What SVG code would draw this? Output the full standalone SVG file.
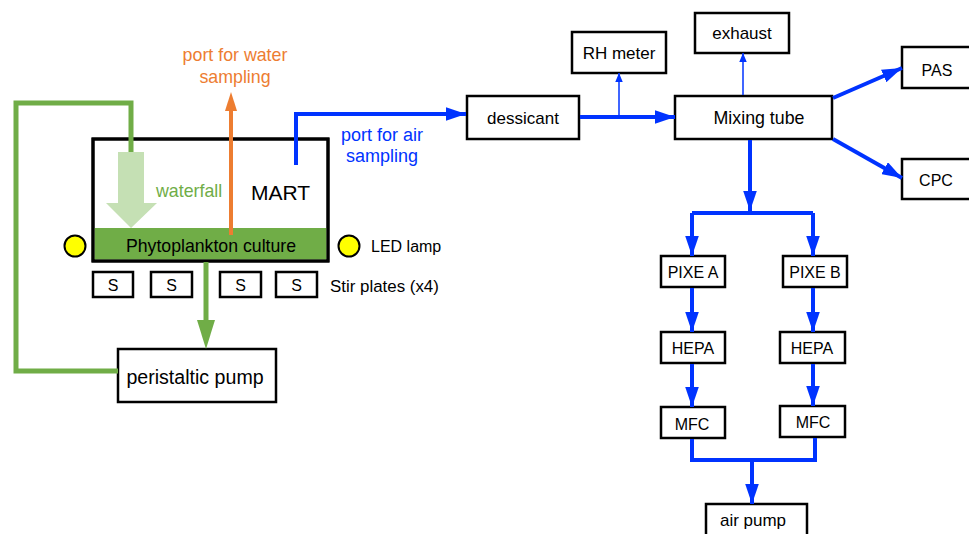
<svg xmlns="http://www.w3.org/2000/svg" width="969" height="534" viewBox="0 0 969 534">
<style>
text{font-family:"Liberation Sans","DejaVu Sans",sans-serif;fill:#000}
.box{fill:#fff;stroke:#000;stroke-width:2.5}
.t{font-size:17px;text-anchor:middle;dominant-baseline:central}
.c{font-size:16px}
.s{font-size:16px;dominant-baseline:central}
.blue{stroke:#0033FF;fill:none;stroke-width:4}
.bthin{stroke:#0033FF;fill:none;stroke-width:1.5}
.green{stroke:#70AD47;fill:none;stroke-width:5}
</style>
<defs>
<marker id="ab" viewBox="0 0 10 10" refX="10" refY="5" markerWidth="5" markerHeight="3.4" orient="auto" markerUnits="strokeWidth" preserveAspectRatio="none"><path d="M0,0L10,5L0,10z" fill="#0033FF"/></marker>
<marker id="abt" viewBox="0 0 10 10" refX="10" refY="5" markerWidth="6" markerHeight="5" orient="auto" markerUnits="strokeWidth" preserveAspectRatio="none"><path d="M0,0L10,5L0,10z" fill="#0033FF"/></marker>
</defs>
<g id="mart">
<rect x="93" y="139" width="235" height="122" fill="#fff" stroke="#000" stroke-width="3"/>
<rect x="94.5" y="228" width="232" height="31.5" fill="#70AD47"/>
<rect x="93" y="139" width="235" height="122" fill="none" stroke="#000" stroke-width="3"/>
<text class="t" x="211" y="246" style="font-size:17.7px">Phytoplankton culture</text>
<text x="251" y="192" style="font-size:21px;dominant-baseline:central">MART</text>
</g>
<g id="waterfall">
<path d="M118,152 H144 V203 H157 L131,228 L106,203 H118z" fill="#C5E0B4"/>
<text class="s" x="156" y="191" style="font-size:17.8px;fill:#70AD47">waterfall</text>
</g>
<g id="water-port"><text class="t" x="235" y="55" style="font-size:17.8px;fill:#ED7D31">port for water</text><text class="t" x="235" y="77" style="font-size:17.8px;fill:#ED7D31">sampling</text></g>
<g id="air-port"><text class="t" x="382" y="135" style="font-size:18px;fill:#0033FF">port for air</text><text class="t" x="382" y="156" style="font-size:18px;fill:#0033FF">sampling</text></g>
<g id="led-left"><circle cx="75" cy="246" r="10.5" fill="#FFFF00" stroke="#000" stroke-width="2"/></g>
<g id="led-right"><circle cx="349" cy="246" r="10.5" fill="#FFFF00" stroke="#000" stroke-width="2"/><text class="s" x="371" y="246">LED lamp</text></g>
<g id="stir1"><rect class="box" x="93" y="272" width="40" height="25"/><text class="t" x="113" y="285" style="font-size:16px">S</text></g>
<g id="stir2"><rect class="box" x="151" y="272" width="41" height="25"/><text class="t" x="171.5" y="285" style="font-size:16px">S</text></g>
<g id="stir3"><rect class="box" x="220" y="272" width="41" height="25"/><text class="t" x="240.5" y="285" style="font-size:16px">S</text></g>
<g id="stir4"><rect class="box" x="276" y="272" width="41" height="25"/><text class="t" x="296.5" y="285" style="font-size:16px">S</text><text class="s" x="330" y="286" style="font-size:16.9px">Stir plates (x4)</text></g>
<g id="pump"><rect class="box" x="118" y="349" width="158" height="53"/><text class="t" x="195" y="377" style="font-size:19.6px">peristaltic pump</text></g>
<g id="dessicant"><rect class="box" x="467" y="96" width="112" height="43"/><text class="t" x="523" y="118">dessicant</text></g>
<g id="rh"><rect class="box" x="572" y="32" width="94" height="41"/><text class="t" x="619" y="53">RH meter</text></g>
<g id="exhaust"><rect class="box" x="695" y="13" width="94" height="40"/><text class="t" x="742" y="33">exhaust</text></g>
<g id="mixing"><rect class="box" x="675" y="96" width="157" height="43"/><text class="t" x="759" y="118" style="font-size:17.8px">Mixing tube</text></g>
<g id="pas"><rect class="box" x="902" y="47" width="75" height="41"/><text class="t c" x="937" y="70">PAS</text></g>
<g id="cpc"><rect class="box" x="902" y="159" width="75" height="40"/><text class="t c" x="936" y="180">CPC</text></g>
<g id="pixea"><rect class="box" x="661" y="256" width="64" height="31"/><text class="t c" x="693" y="272">PIXE A</text></g>
<g id="pixeb"><rect class="box" x="783" y="256" width="64" height="31"/><text class="t c" x="815" y="272">PIXE B</text></g>
<g id="hepaa"><rect class="box" x="661" y="332" width="64" height="31"/><text class="t c" x="693" y="348">HEPA</text></g>
<g id="hepab"><rect class="box" x="780" y="332" width="65" height="31"/><text class="t c" x="812" y="348">HEPA</text></g>
<g id="mfca"><rect class="box" x="661" y="407" width="64" height="31"/><text class="t c" x="692" y="424">MFC</text></g>
<g id="mfcb"><rect class="box" x="780" y="406" width="65" height="31"/><text class="t c" x="813" y="422">MFC</text></g>
<g id="airpump"><rect class="box" x="706" y="504" width="101" height="45"/><text class="t" x="753" y="520">air pump</text></g>
<g id="connectors">
<path class="green" d="M118,371 H16 V103 H131 V152"/>
<path d="M206,262 V322" stroke="#70AD47" stroke-width="5"/>
<path d="M197,320 L215,320 L206,349z" fill="#70AD47"/>
<path d="M231,235 V110" stroke="#ED7D31" stroke-width="4"/>
<path d="M225,111 L237,111 L231,92z" fill="#ED7D31"/>
<path class="blue" d="M296,165 V114 H466" marker-end="url(#ab)"/>
<path class="blue" d="M580,117 H675" marker-end="url(#ab)"/>
<path class="bthin" d="M619,116 V73" marker-end="url(#abt)"/>
<path class="bthin" d="M743,95 V53" marker-end="url(#abt)"/>
<path class="blue" d="M833,98 L902,68" marker-end="url(#ab)"/>
<path class="blue" d="M833,139 L902,178" marker-end="url(#ab)"/>
<path class="blue" d="M750,140 V211" marker-end="url(#ab)"/>
<path class="blue" d="M692,213 H813"/>
<path class="blue" d="M692,213 V256" marker-end="url(#ab)"/>
<path class="blue" d="M813,213 V256" marker-end="url(#ab)"/>
<path class="blue" d="M692,288 V332" marker-end="url(#ab)"/>
<path class="blue" d="M813,288 V332" marker-end="url(#ab)"/>
<path class="blue" d="M692,364 V407" marker-end="url(#ab)"/>
<path class="blue" d="M813,364 V406" marker-end="url(#ab)"/>
<path class="blue" d="M692,439 V460 H815 V438"/>
<path class="blue" d="M752,460 V504" marker-end="url(#ab)"/>
</g>
</svg>
